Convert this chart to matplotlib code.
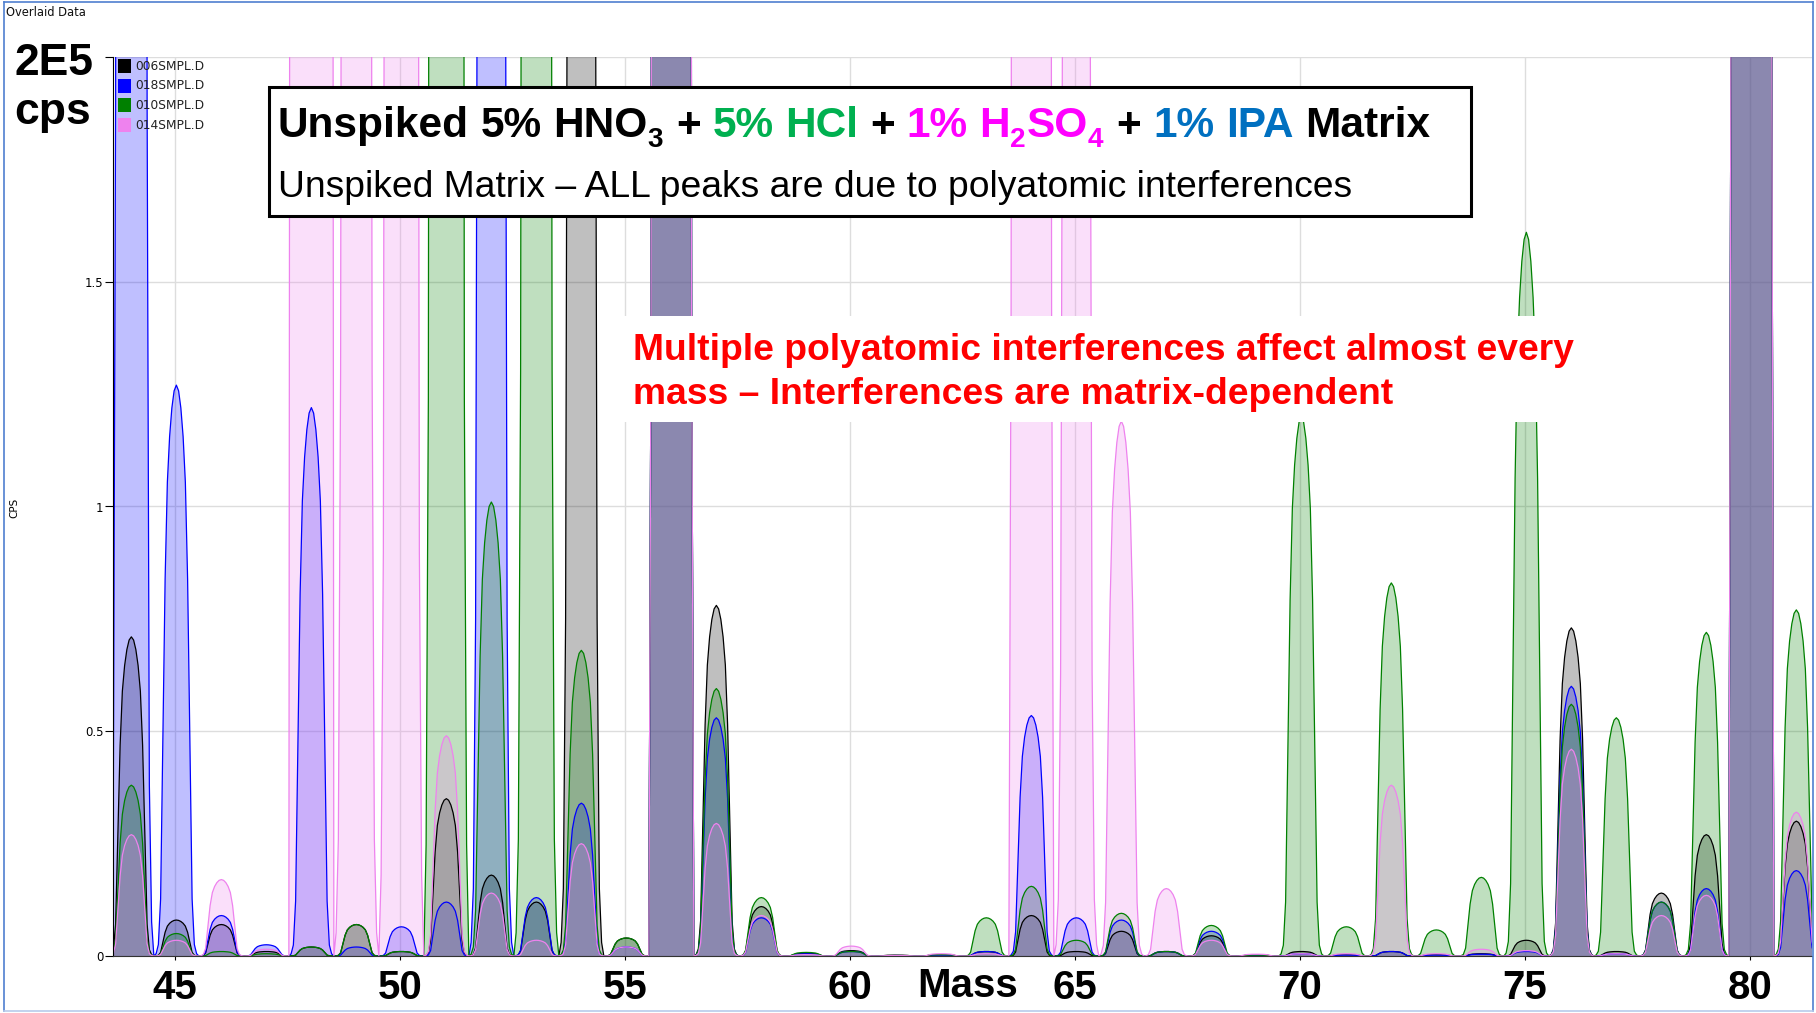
import numpy as np
import matplotlib
matplotlib.use("Agg")
import matplotlib.pyplot as plt
from matplotlib.patches import Rectangle
from matplotlib.lines import Line2D

W, H = 1816, 1013

# nominal masses scanned (amu)
MASSES = [44, 45, 46, 47, 48, 49, 50, 51, 52, 53, 54, 55, 56, 57, 58, 59, 60, 61, 62,
          63, 64, 65, 66, 67, 68, 69, 70, 71, 72, 73, 74, 75, 76, 77, 78, 79, 80, 81]

# peak apex per mass, units of 1E5 cps (values > 2 run off the top of the scale)
SMPL_006 = [0.71, 0.08, 0.07, 0.01, 0.02, 0.07, 0.01, 0.35, 0.18, 0.12, 7.5, 0.04, 360,
            0.78, 0.11, 0.006, 0.012, 0.002, 0.003, 0.01, 0.09, 0.01, 0.055, 0.01, 0.045,
            0.002, 0.01, 0.003, 0.01, 0.003, 0.005, 0.035, 0.73, 0.01, 0.14, 0.27, 550, 0.30]
SMPL_018 = [19, 1.27, 0.09, 0.025, 1.22, 0.02, 0.065, 0.12, 7.5, 0.13, 0.34, 0.02, 360,
            0.53, 0.085, 0.005, 0.01, 0.001, 0.002, 0.01, 0.535, 0.085, 0.08, 0.01, 0.055,
            0.002, 0.005, 0.002, 0.01, 0.002, 0.004, 0.01, 0.60, 0.005, 0.12, 0.15, 550, 0.19]
SMPL_010 = [0.38, 0.05, 0.01, 0.005, 0.02, 0.07, 0.01, 62, 1.01, 13, 0.68, 0.04, 360,
            0.595, 0.13, 0.008, 0.01, 0.001, 0.003, 0.085, 0.155, 0.035, 0.095, 0.01, 0.068,
            0.002, 1.20, 0.065, 0.83, 0.058, 0.175, 1.61, 0.56, 0.53, 0.12, 0.72, 550, 0.77]
SMPL_014 = [0.27, 0.035, 0.17, 0.015, 1500, 13, 45, 0.49, 0.14, 0.035, 0.25, 0.02, 360,
            0.295, 0.09, 0.003, 0.022, 0.001, 0.005, 0.005, 360, 6.3, 1.19, 0.15, 0.035,
            0.004, 0.005, 0.005, 0.38, 0.005, 0.015, 0.012, 0.46, 0.005, 0.09, 0.135, 550, 0.32]

SAMPLES = ["006SMPL.D", "018SMPL.D", "010SMPL.D", "014SMPL.D"]
SERIES = [SMPL_006, SMPL_018, SMPL_010, SMPL_014]
COLORS = ["#000000", "#0000FF", "#008000", "#EE82EE"]

# scan profile of a single mass peak (relative intensity vs. offset in amu)
PEAK_OFFSETS = np.array([-0.5, -0.45, -0.4, -0.35, -0.3, -0.25, -0.2, -0.15, -0.1, -0.05, 0.0,
                         0.05, 0.1, 0.15, 0.2, 0.25, 0.3, 0.35, 0.4, 0.45, 0.5])
PEAK_SHAPE = np.array([0.0, 0.004, 0.02, 0.1, 0.38, 0.66, 0.83, 0.91, 0.96, 0.99, 1.0,
                       0.99, 0.96, 0.91, 0.83, 0.66, 0.38, 0.1, 0.02, 0.004, 0.0])
PEAK_SHIFT = 0.03

XTICKS = [45, 50, 55, 60, 65, 70, 75, 80]
YTICKS = [0, 0.5, 1, 1.5, 2]
YTICKLABELS = ["0", "0.5", "1", "1.5", ""]


def fx(px):
    return px / W


def fy(py):
    return 1 - py / H


def trace(heights):
    xs, ys = [], []
    for m, h in zip(MASSES, heights):
        xs.extend(m + PEAK_SHIFT + PEAK_OFFSETS)
        ys.extend(h * PEAK_SHAPE)
    return np.array(xs), np.array(ys)


def rich_line(fig, x_px, base_px, parts, size, sub_scale=0.66, sub_drop=10):
    """Write coloured pieces one after another on a common baseline."""
    renderer = fig.canvas.get_renderer()
    probe = fig.text(0, 0, "a a", fontsize=size, fontweight="bold", family="Liberation Sans")
    probe2 = fig.text(0, 0, "aa", fontsize=size, fontweight="bold", family="Liberation Sans")
    space = probe.get_window_extent(renderer).width - probe2.get_window_extent(renderer).width
    probe.remove()
    probe2.remove()
    x = x_px
    for text, color, sub in parts:
        if text == " ":
            x += space
            continue
        fs = size * sub_scale if sub else size
        y = base_px + (sub_drop if sub else 0)
        t = fig.text(fx(x), fy(y), text, color=color, fontsize=fs, fontweight="bold",
                     family="Liberation Sans", va="baseline", ha="left", zorder=12)
        x += t.get_window_extent(renderer).width + (1 if sub else 0)


fig = plt.figure(figsize=(W / 100, H / 100), dpi=100)
fig.patch.set_facecolor("white")

ax = fig.add_axes([fx(113), fy(956), fx(1812) - fx(113), fy(57) - fy(956)])
ax.set_xlim(43.622, 81.378)
ax.set_ylim(0, 2.0)

for heights, color in zip(SERIES, COLORS):
    xs, ys = trace(heights)
    ax.fill_between(xs, 0, ys, color=color, alpha=0.25, lw=0)
    ax.plot(xs, ys, color=color, lw=0.9)

ax.set_yticks(YTICKS)
ax.set_yticklabels(YTICKLABELS)
ax.set_xticks(XTICKS)
ax.set_xticklabels([str(v) for v in XTICKS])
ax.grid(True, color="#DDDDDD", lw=1)
ax.set_axisbelow(True)
for side in ["top", "right"]:
    ax.spines[side].set_visible(False)
ax.spines["left"].set_color("#000000")
ax.spines["bottom"].set_color("#333333")
ax.tick_params(axis="y", length=6, width=0.8, labelsize=8.5, pad=1)
ax.tick_params(axis="x", length=3, width=0.8, pad=6)
for lab in ax.get_xticklabels():
    lab.set_fontsize(29)
    lab.set_fontweight("bold")
    lab.set_family("Liberation Sans")

# window chrome
fig.text(fx(6), fy(12), "Overlaid Data", fontsize=8.3, va="center", ha="left", color="#111111")
frame = "#4F7FD0"
fig.add_artist(Line2D([fx(4), fx(4)], [fy(2), fy(1011)], color=frame, lw=1.2))
fig.add_artist(Line2D([fx(4), fx(1813)], [fy(2), fy(2)], color=frame, lw=1.2))
fig.add_artist(Line2D([fx(1813), fx(1813)], [fy(2), fy(1011)], color=frame, lw=1.2))
fig.add_artist(Line2D([fx(4), fx(1813)], [fy(1011), fy(1011)], color="#B8CBEB", lw=1.2))
fig.text(fx(14), fy(508), "CPS", rotation=90, fontsize=7.5, va="center", ha="center")

# scale annotation
fig.text(fx(14), fy(75), "2E5", fontsize=32, fontweight="bold", family="Liberation Sans",
         va="baseline", ha="left")
fig.text(fx(14), fy(124), "cps", fontsize=32, fontweight="bold", family="Liberation Sans",
         va="baseline", ha="left")
fig.text(fx(968), fy(997), "Mass", fontsize=29, fontweight="bold", family="Liberation Sans",
         va="baseline", ha="center")

# sample key
for i, (name, color) in enumerate(zip(SAMPLES, COLORS)):
    yc = 66 + i * 19.7
    fig.add_artist(Rectangle((fx(118), fy(yc + 7)), fx(13), 14 / H, facecolor=color,
                             edgecolor="none", zorder=6))
    fig.text(fx(135), fy(yc), name, fontsize=8.8, va="center", ha="left", color="#222222",
             zorder=6)

# heading box
fig.add_artist(Rectangle((fx(269), fy(216)), fx(1471) - fx(269), (216 - 87) / H,
                         facecolor="white", edgecolor="black", lw=2.2, zorder=10))
BLACK, GREEN, MAGENTA, BLUE = "#000000", "#00B050", "#FF00FF", "#0070C0"
heading = [("Unspiked", BLACK, False), (" ", None, False), ("5%", BLACK, False),
           (" ", None, False), ("HNO", BLACK, False), ("3", BLACK, True), (" ", None, False),
           ("+", BLACK, False), (" ", None, False),
           ("5%", GREEN, False), (" ", None, False), ("HCl", GREEN, False), (" ", None, False),
           ("+", BLACK, False), (" ", None, False),
           ("1%", MAGENTA, False), (" ", None, False), ("H", MAGENTA, False),
           ("2", MAGENTA, True), ("SO", MAGENTA, False), ("4", MAGENTA, True), (" ", None, False),
           ("+", BLACK, False), (" ", None, False),
           ("1%", BLUE, False), (" ", None, False), ("IPA", BLUE, False), (" ", None, False),
           ("Matrix", BLACK, False)]
rich_line(fig, 278, 137, heading, 30.5)
fig.text(fx(278), fy(197), "Unspiked Matrix \u2013 ALL peaks are due to polyatomic interferences",
         fontsize=26.8, family="Liberation Sans", va="baseline", ha="left", zorder=12)

# red callout on a white panel
fig.add_artist(Rectangle((fx(624), fy(422)), fx(1580) - fx(624), (422 - 316) / H,
                         facecolor="white", edgecolor="none", zorder=10))
fig.text(fx(633), fy(360), "Multiple polyatomic interferences affect almost every",
         fontsize=26.8, fontweight="bold", color="#FF0000", family="Liberation Sans",
         va="baseline", ha="left", zorder=12)
fig.text(fx(633), fy(404), "mass \u2013 Interferences are matrix-dependent",
         fontsize=26.8, fontweight="bold", color="#FF0000", family="Liberation Sans",
         va="baseline", ha="left", zorder=12)

fig.savefig("out.png", dpi=100, facecolor="white")
